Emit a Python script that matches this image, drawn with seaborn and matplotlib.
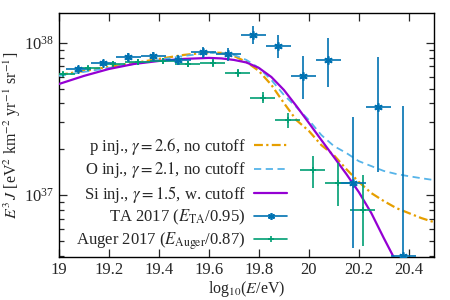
import numpy as np
import matplotlib
matplotlib.use("Agg")
import matplotlib.pyplot as plt
from matplotlib.lines import Line2D
import pandas as pd
import seaborn as sns

sns.set_theme(style="ticks")
plt.rcParams['font.family'] = ['Liberation Serif', 'DejaVu Serif']
plt.rcParams['mathtext.fontset'] = 'stix'

# all fluxes in units of 1e37 eV^2 km^-2 yr^-1 sr^-1
# model curves
x_si = [19.0, 19.1, 19.2, 19.3, 19.4, 19.5, 19.6, 19.65, 19.7, 19.75, 19.8, 19.85,
        19.9, 19.95, 20.0, 20.05, 20.1, 20.15, 20.2, 20.25, 20.3, 20.35, 20.4]
y_si = [5.37, 6.07, 6.74, 7.27, 7.61, 7.85, 7.97, 7.91, 7.73, 7.44, 6.85, 5.97,
        4.91, 3.85, 2.98, 2.30, 1.78, 1.375, 1.046, 0.761, 0.521, 0.362, 0.237]

x_pO = [19.0, 19.1, 19.2, 19.3, 19.4, 19.5, 19.6, 19.65, 19.7, 19.75, 19.8, 19.85,
        19.9, 19.95, 20.0, 20.05, 20.1, 20.15, 20.2, 20.25, 20.3, 20.35, 20.4, 20.45, 20.5]
y_p = [6.16, 6.54, 6.95, 7.38, 7.85, 8.34, 8.66, 8.60, 8.21, 7.50, 6.54, 5.30,
       4.03, 3.11, 2.64, 2.13, 1.83, 1.48, 1.22, 1.03, 0.913, 0.821, 0.761, 0.706, 0.664]
y_O = [6.07, 6.45, 6.85, 7.27, 7.73, 8.21, 8.60, 8.60, 8.34, 7.73, 6.85, 5.71,
       4.55, 3.79, 3.11, 2.48, 2.10, 1.89, 1.67, 1.55, 1.44, 1.375, 1.33, 1.29, 1.255]

# TA 2017 (E_TA/0.95)
ta_x = [19.078, 19.178, 19.278, 19.378, 19.478, 19.578, 19.678, 19.778, 19.878,
        19.978, 20.078, 20.178, 20.278, 20.378]
ta_y = [6.74, 7.38, 8.09, 8.21, 7.73, 8.73, 8.47, 11.29, 9.56, 6.07, 7.73, 1.20, 3.79, 0.397]
ta_lo = [6.45, 7.06, 7.61, 7.73, 7.17, 7.97, 7.61, 9.85, 7.97, 4.28, 5.13, 0.448, 1.42, 0.05]
ta_hi = [7.06, 7.73, 8.60, 8.73, 8.34, 9.41, 9.27, 12.94, 11.29, 8.21, 10.79, 3.26, 8.09, 3.85]

# Auger 2017 (E_Auger/0.87)
au_x = [19.015, 19.115, 19.215, 19.315, 19.415, 19.515, 19.615, 19.715, 19.815,
        19.915, 20.015, 20.115, 20.215]
au_y = [6.25, 6.85, 7.27, 7.50, 7.61, 7.27, 7.38, 6.35, 4.35, 3.11, 1.46, 1.20, 0.797]
au_lo = [6.07, 6.64, 7.00, 7.17, 7.27, 6.95, 6.95, 5.98, 4.03, 2.76, 1.11, 0.846, 0.462]
au_hi = [6.45, 7.06, 7.55, 7.85, 7.97, 7.61, 7.85, 6.74, 4.76, 3.46, 1.80, 1.62, 1.35]

bin_half = 0.05
scale = 1e37

c_p = "#E69F00"
c_O = "#56B4E9"
c_si = "#9400D3"
c_ta = "#0072B2"
c_au = "#009E73"

fig = plt.figure(figsize=(4.5, 3), dpi=100)
ax = fig.add_axes([0.131, 0.143, 0.833, 0.814])

df_pO = pd.DataFrame({"x": x_pO, "p": np.array(y_p) * scale, "O": np.array(y_O) * scale})
df_si = pd.DataFrame({"x": x_si, "Si": np.array(y_si) * scale})

sns.lineplot(data=df_pO, x="x", y="p", ax=ax, color=c_p, lw=1.6,
             linestyle=(0, (4, 1.5, 1, 1.5)), zorder=3)
sns.lineplot(data=df_pO, x="x", y="O", ax=ax, color=c_O, lw=1.3,
             linestyle=(0, (4, 2.5)), zorder=3)
sns.lineplot(data=df_si, x="x", y="Si", ax=ax, color=c_si, lw=1.6, zorder=4)

def draw_points(xs, ys, lo, hi, color, marker, ms):
    xs = np.array(xs)
    ys = np.array(ys) * scale
    lo = np.array(lo) * scale
    hi = np.array(hi) * scale
    ax.errorbar(xs, ys, xerr=bin_half, yerr=[ys - lo, hi - ys], fmt="none",
                ecolor=color, elinewidth=1.2, capsize=0, zorder=5)
    ax.plot(xs, ys, ls="none", marker=marker, ms=ms, mew=1.2,
            color=color, mec=color, zorder=6)

draw_points(au_x, au_y, au_lo, au_hi, c_au, "+", 5)
draw_points(ta_x, ta_y, ta_lo, ta_hi, c_ta, (6, 2, 0), 6)

ax.set_yscale("log")
ax.set_xlim(19.0, 20.5)
ax.set_ylim(3.91e36, 1.575e38)
ax.set_xticks([19.0, 19.2, 19.4, 19.6, 19.8, 20.0, 20.2, 20.4])
ax.set_xticklabels(["19", "19.2", "19.4", "19.6", "19.8", "20", "20.2", "20.4"])
ax.tick_params(which="both", direction="in", top=True, right=True, labelsize=12)
ax.tick_params(which="major", length=6, width=0.9)
ax.tick_params(which="minor", length=3.5, width=0.9)
for s in ax.spines.values():
    s.set_linewidth(1.0)
    s.set_color("black")

ax.set_xlabel(r"log$_{10}$($E$/eV)", fontsize=11.5, labelpad=1)
ax.set_ylabel(r"$E^3\,J$ [eV$^2$ km$^{-2}$ yr$^{-1}$ sr$^{-1}$]", fontsize=11.5, labelpad=1)

handles = [
    Line2D([], [], color=c_p, lw=1.6, linestyle=(0, (4, 1.5, 1, 1.5))),
    Line2D([], [], color=c_O, lw=1.3, linestyle=(0, (4, 2.5))),
    Line2D([], [], color=c_si, lw=1.6),
    Line2D([], [], color=c_ta, lw=1.2, marker=(6, 2, 0), ms=5, mew=1.2),
    Line2D([], [], color=c_au, lw=1.2, marker="+", ms=5, mew=1.2),
]
labels = [
    r"p inj., $\gamma = 2.6$, no cutoff",
    r"O inj., $\gamma = 2.1$, no cutoff",
    r"Si inj., $\gamma = 1.5$, w. cutoff",
    r"TA 2017 ($E_{\rm TA}$/0.95)",
    r"Auger 2017 ($E_{\rm Auger}$/0.87)",
]
ax.legend(handles, labels, loc="lower right", bbox_to_anchor=(0.645, -0.035),
          frameon=False, markerfirst=False, fontsize=12, handlelength=2.0,
          handletextpad=0.5, labelspacing=0.2, borderpad=0.3)

fig.savefig("out.png", dpi=100)
